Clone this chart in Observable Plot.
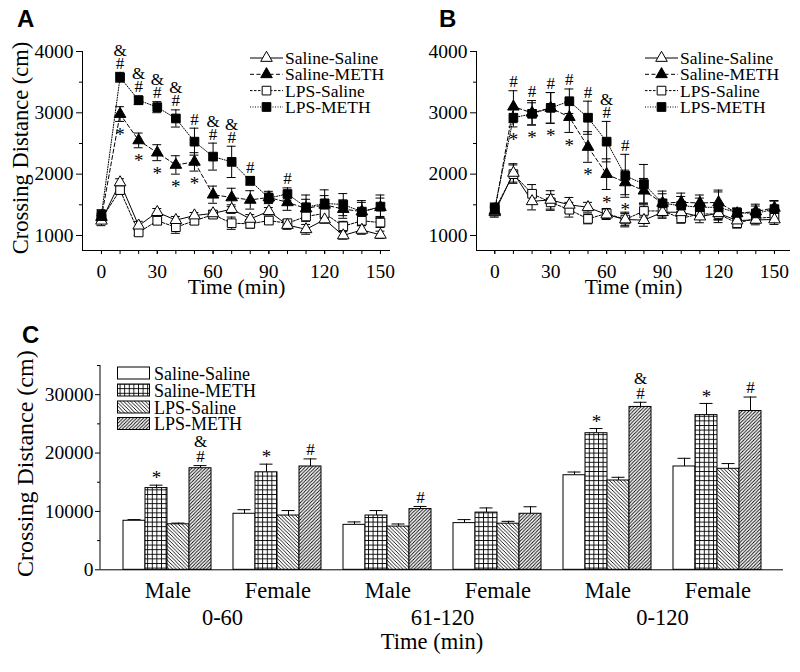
<!DOCTYPE html>
<html><head><meta charset="utf-8">
<script src="https://cdn.jsdelivr.net/npm/d3@7"></script>
<script src="https://cdn.jsdelivr.net/npm/@observablehq/plot@0.6"></script>
<style>
body{margin:0;background:#fff;}
#wrap{position:relative;width:800px;height:672px;overflow:hidden;background:#fff;}
#wrap svg{position:absolute;}
</style></head><body><div id="wrap"></div>
<script>
// ---------- data ----------
const times = [0,10,20,30,40,50,60,70,80,90,100,110,120,130,140,150];
const seriesNames = ["Saline-Saline","Saline-METH","LPS-Saline","LPS-METH"];
const xLabelTicks = [0,30,60,90,120,150];
const yMajorTime = [1000,2000,3000,4000];
const yMinorTime = [1500,2500,3500];

// Panel A
const aSalineSaline    = [1240,1865,1160,1380,1250,1325,1360,1430,1270,1395,1170,1100,1260,1000,1090,1010];
const aSalineSalineErr = [80,60,70,60,60,50,50,70,70,60,70,80,60,60,70,60];
const aSalineMeth      = [1300,2980,2550,2350,2150,2200,1665,1620,1580,1620,1540,1440,1500,1430,1390,1460];
const aSalineMethErr   = [60,120,120,130,150,150,140,150,150,100,130,150,150,150,150,150];
const aLpsSaline       = [1270,1740,1050,1240,1135,1240,1340,1200,1190,1243,1200,1310,1360,1150,1240,1210];
const aLpsSalineErr    = [60,70,50,60,100,60,60,100,70,60,60,80,80,80,80,80];
const aLpsMeth         = [1340,3580,3205,3092,2908,2530,2286,2200,1892,1611,1676,1460,1524,1503,1389,1470];
const aLpsMethErr      = [80,80,70,90,140,220,220,255,70,80,100,200,220,180,180,190];
const aHash = ["","#","#","#","#","#","#","#","#","","#","","","","",""];
const aAmp  = ["","&","&","&","&","","&","&","","","","","","","",""];
const aStar = ["","*","*","*","*","*","","","","","","","","","",""];

// Panel B
const bSalineSaline    = [1378,2020,1557,1580,1500,1460,1340,1260,1250,1380,1378,1308,1362,1243,1254,1260];
const bSalineSalineErr = [80,150,140,150,120,80,80,100,100,100,100,100,100,100,80,80];
const bSalineMeth      = [1400,3100,3000,3080,2930,2443,2000,1865,1730,1530,1541,1530,1540,1360,1390,1450];
const bSalineMethErr   = [80,260,200,250,250,250,250,200,200,150,150,130,200,80,120,120];
const bLpsSaline       = [1420,2000,1680,1540,1420,1270,1360,1260,1400,1400,1280,1351,1350,1200,1280,1300];
const bLpsSalineErr    = [80,150,150,130,120,80,80,120,100,100,80,80,100,80,80,80];
const bLpsMeth         = [1450,2920,2984,3081,3189,2920,2530,1973,1838,1524,1486,1460,1460,1370,1360,1430];
const bLpsMethErr      = [80,150,180,250,200,270,330,350,320,200,150,150,250,80,120,130];
const bHash = ["","#","#","#","#","#","#","#","","","","","","","",""];
const bAmp  = ["","","","","","","&","","","","","","","","",""];
const bStar = ["","*","*","*","*","*","*","*","","","","","","","",""];

// Panel C
const groupSex   = ["Male","Female","Male","Female","Male","Female"];
const rangeLabels = ["0-60","61-120","0-120"];
const cSalineSaline    = [8400,9600,7700,8000,16200,17700];
const cSalineSalineErr = [200,700,500,600,550,1400];
const cSalineMeth      = [14000,16700,9300,9800,23400,26500];
const cSalineMethErr   = [500,1400,850,800,800,2000];
const cLpsSaline       = [7800,9300,7400,7900,15300,17300];
const cLpsSalineErr    = [200,850,450,400,550,900];
const cLpsMeth         = [17400,17700,10400,9600,27900,27200];
const cLpsMethErr      = [450,1300,450,1200,800,2400];
const cStar = ["*","*","","","*","*"];   // over Saline-METH
const cHash = ["#","#","#","","#","#"];  // over LPS-METH
const cAmp  = ["&","","","","&",""];
const cYMajor = [0,10000,20000,30000];
const cYMinor = [5000,15000,25000,35000];

// ---------- helpers ----------
const wrap = document.getElementById("wrap");
const serif = "'Liberation Serif','Times New Roman',serif";
const sans = "'Liberation Sans',Arial,sans-serif";
const styleOf = [
  {symbol: "triangle", fill: "white", r: 4.3, dash: null},
  {symbol: "triangle", fill: "black", r: 4.3, dash: "4,2.5"},
  {symbol: "square",   fill: "white", r: 4.9, dash: "2.5,1.5"},
  {symbol: "square",   fill: "black", r: 4.9, dash: "1,1.5"}
];
const symbolType = {triangle: d3.symbolTriangle, square: d3.symbolSquare};

function place(svg, left, top) {
  svg.style.left = left + "px";
  svg.style.top = top + "px";
  wrap.appendChild(svg);
}

function timePanel({means, errs, hash, amp, star, marginLeft, xDomain, yTitle, letter, letterX, legendX}) {
  const rows = [];
  seriesNames.forEach((s, si) => times.forEach((t, i) =>
    rows.push({series: s, si, t, v: means[si][i], e: errs[si][i]})));
  const ann = times.map((t, i) => ({
    t,
    top: Math.max(means[1][i] + errs[1][i], means[3][i] + errs[3][i]),
    bot: Math.min(means[1][i] - errs[1][i], means[3][i] - errs[3][i]),
    hash: hash[i], amp: amp[i], star: star[i]
  }));
  const yDomain = [755, 4000];
  const capHalf = 2.4;
  const order = [2, 0, 3, 1];
  const marks = [
    Plot.ruleX([xDomain[0]], {stroke: "black"}),
    Plot.ruleY([yDomain[0]], {stroke: "black"}),
    Plot.axisY({ticks: yMajorTime, tickSize: 6, tickPadding: 3, tickFormat: d3.format("d"), label: null, fontSize: 19.5}),
    Plot.axisY({ticks: yMinorTime, tickSize: 3, tickFormat: () => "", label: null}),
    Plot.axisX({ticks: times, tickSize: 4, tickFormat: () => "", label: null}),
    Plot.axisX({ticks: xLabelTicks, tickSize: 4, tickPadding: 10, tickFormat: d3.format("d"), label: null, fontSize: 19.5})
  ];
  order.forEach(si => marks.push(Plot.line(rows.filter(d => d.si === si),
    {x: "t", y: "v", stroke: "black", strokeWidth: 1, strokeDasharray: styleOf[si].dash})));
  marks.push(Plot.ruleX(rows, {x: "t", y1: d => d.v - d.e, y2: d => d.v + d.e, stroke: "black"}));
  marks.push(Plot.ruleY(rows, {y: d => d.v + d.e, x1: d => d.t - capHalf, x2: d => d.t + capHalf, stroke: "black"}));
  marks.push(Plot.ruleY(rows, {y: d => d.v - d.e, x1: d => d.t - capHalf, x2: d => d.t + capHalf, stroke: "black"}));
  order.forEach(si => marks.push(Plot.dot(rows.filter(d => d.si === si),
    {x: "t", y: "v", symbol: styleOf[si].symbol, r: styleOf[si].r, fill: styleOf[si].fill, stroke: "black", strokeWidth: 1})));
  marks.push(Plot.text(ann.filter(d => d.hash), {x: "t", y: "top", text: "hash", dy: -9, fontSize: 17}));
  marks.push(Plot.text(ann.filter(d => d.amp), {x: "t", y: "top", text: "amp", dy: -22, fontSize: 17}));
  marks.push(Plot.text(ann.filter(d => d.star), {x: "t", y: "bot", text: "star", dy: 13, fontSize: 19}));
  if (yTitle) marks.push(Plot.text([yTitle], {frameAnchor: "left", textAnchor: "middle", dx: -62, dy: -3, rotate: -90, fontSize: 22.5}));
  marks.push(Plot.text(["Time (min)"], {frameAnchor: "bottom", dy: 43, fontSize: 21.5}));

  const svg = Plot.plot({
    width: 400, height: 310,
    marginLeft, marginRight: 10, marginTop: 51, marginBottom: 60,
    x: {domain: xDomain, label: null},
    y: {domain: yDomain, label: null},
    style: {fontFamily: serif, fontSize: "19px", color: "black", background: "white", overflow: "visible"},
    marks
  });
  const s = d3.select(svg);
  s.append("text").attr("x", letterX).attr("y", 27).attr("font-family", sans).attr("text-anchor", "start")
    .attr("font-weight", "bold").attr("font-size", 24).text(letter);
  const rowsY = [58, 74.3, 90.6, 107];
  const lg = s.append("g");
  seriesNames.forEach((name, si) => {
    const y = rowsY[si];
    lg.append("line").attr("x1", legendX).attr("x2", legendX + 33).attr("y1", y).attr("y2", y)
      .attr("stroke", "black").attr("stroke-dasharray", styleOf[si].dash);
    lg.append("path").attr("transform", `translate(${legendX + 16.5},${y})`)
      .attr("d", d3.symbol(symbolType[styleOf[si].symbol], Math.PI * styleOf[si].r ** 2)())
      .attr("fill", styleOf[si].fill).attr("stroke", "black");
    lg.append("text").attr("x", legendX + 35).attr("y", y + 6).attr("font-size", 17.5).attr("text-anchor", "start")
      .attr("font-family", serif).text(name);
  });
  return svg;
}

// ---------- panel A ----------
place(timePanel({
  means: [aSalineSaline, aSalineMeth, aLpsSaline, aLpsMeth],
  errs: [aSalineSalineErr, aSalineMethErr, aLpsSalineErr, aLpsMethErr],
  hash: aHash, amp: aAmp, star: aStar,
  marginLeft: 82, xDomain: [-10.2, 155.4],
  yTitle: "Crossing Distance (cm)", letter: "A", letterX: 17, legendX: 250
}), 0, 0);

// ---------- panel B ----------
place(timePanel({
  means: [bSalineSaline, bSalineMeth, bLpsSaline, bLpsMeth],
  errs: [bSalineSalineErr, bSalineMethErr, bLpsSalineErr, bLpsMethErr],
  hash: bHash, amp: bAmp, star: bStar,
  marginLeft: 76, xDomain: [-9.8, 158.6],
  yTitle: null, letter: "B", letterX: 39, legendX: 245
}), 400, 0);

// ---------- panel C ----------
(function () {
  const means = [cSalineSaline, cSalineMeth, cLpsSaline, cLpsMeth];
  const errs = [cSalineSalineErr, cSalineMethErr, cLpsSalineErr, cLpsMethErr];
  const keyOf = (gi, s) => gi + "|" + s;
  const domain = [];
  groupSex.forEach((g, gi) => {
    seriesNames.forEach(s => domain.push(keyOf(gi, s)));
    if (gi < groupSex.length - 1) domain.push("gap" + gi);
  });
  const rows = [];
  seriesNames.forEach((s, si) => groupSex.forEach((g, gi) =>
    rows.push({key: keyOf(gi, s), series: s, v: means[si][gi], e: errs[si][gi]})));
  const W = 800, H = 362, mL = 100, mR = 17, mT = 55, mB = 102.7;
  const step = (W - mL - mR) / (domain.length + 1);
  const sexRows = groupSex.map((sex, gi) => ({key: keyOf(gi, seriesNames[1]), sex}));
  const rangeRows = rangeLabels.map((r, p) => ({key: "gap" + (2 * p), r}));
  const starRows = groupSex.map((g, gi) => ({key: keyOf(gi, seriesNames[1]), y: means[1][gi] + errs[1][gi], s: cStar[gi]})).filter(d => d.s);
  const hashRows = groupSex.map((g, gi) => ({key: keyOf(gi, seriesNames[3]), y: means[3][gi] + errs[3][gi], s: cHash[gi]})).filter(d => d.s);
  const ampRows = groupSex.map((g, gi) => ({key: keyOf(gi, seriesNames[3]), y: means[3][gi] + errs[3][gi], s: cAmp[gi]})).filter(d => d.s);

  const svg = Plot.plot({
    width: W, height: H, marginLeft: mL, marginRight: mR, marginTop: mT, marginBottom: mB,
    x: {domain, paddingInner: 0, paddingOuter: 0.5, axis: null, label: null},
    y: {domain: [0, 35000], label: null},
    color: {type: "ordinal", domain: seriesNames, range: ["white", "url(#pGrid)", "url(#pBack)", "url(#pFwd)"]},
    style: {fontFamily: serif, fontSize: "19px", color: "black", background: "white", overflow: "visible"},
    marks: [
      Plot.axisY({ticks: cYMajor, tickSize: 5, tickPadding: 2, tickFormat: d3.format("d"), label: null, fontSize: 19.5}),
      Plot.axisY({ticks: cYMinor, tickSize: 3, tickFormat: () => "", label: null}),
      Plot.ruleX(rows, {x: "key", y1: "v", y2: d => d.v + d.e, stroke: "black"}),
      Plot.tickY(rows, {x: "key", y: d => d.v + d.e, insetLeft: 4.5, insetRight: 4.5, stroke: "black"}),
      Plot.barY(rows, {x: "key", y: "v", fill: "series", stroke: "black", strokeWidth: 1}),
      Plot.ruleY([0], {stroke: "black"}),
      Plot.text(starRows, {x: "key", y: "y", text: "s", dy: -7, fontSize: 19}),
      Plot.text(hashRows, {x: "key", y: "y", text: "s", dy: -9, fontSize: 17}),
      Plot.text(ampRows, {x: "key", y: "y", text: "s", dy: -24, fontSize: 17}),
      Plot.text(sexRows, {x: "key", text: "sex", frameAnchor: "bottom", dx: step / 2, dy: 28, fontSize: 22.5}),
      Plot.text(rangeRows, {x: "key", text: "r", frameAnchor: "bottom", dy: 55, fontSize: 22.5}),
      Plot.text(["Time (min)"], {frameAnchor: "bottom", dy: 79, dx: -10, fontSize: 22.5}),
      Plot.text(["Crossing Distance (cm)"], {frameAnchor: "left", textAnchor: "middle", dx: -75, dy: -4, rotate: -90, fontSize: 24})
    ]
  });
  const s = d3.select(svg);
  const defs = s.insert("defs", ":first-child");
  const g1 = defs.append("pattern").attr("id", "pGrid").attr("patternUnits", "userSpaceOnUse")
    .attr("width", 4.6).attr("height", 4.6);
  g1.append("rect").attr("width", 4.6).attr("height", 4.6).attr("fill", "white");
  g1.append("path").attr("d", "M0,0.5H4.6M0.5,0V4.6").attr("stroke", "black").attr("stroke-width", 0.9);
  const w2 = 3.6;
  const g2 = defs.append("pattern").attr("id", "pBack").attr("patternUnits", "userSpaceOnUse")
    .attr("width", w2).attr("height", w2);
  g2.append("rect").attr("width", w2).attr("height", w2).attr("fill", "white");
  g2.append("path").attr("d", `M-1,-1L${w2 + 1},${w2 + 1}M-1,${w2 - 1}L1,${w2 + 1}M${w2 - 1},-1L${w2 + 1},1`)
    .attr("stroke", "black").attr("stroke-width", 0.9);
  const w3 = 3.4;
  const g3 = defs.append("pattern").attr("id", "pFwd").attr("patternUnits", "userSpaceOnUse")
    .attr("width", w3).attr("height", w3);
  g3.append("rect").attr("width", w3).attr("height", w3).attr("fill", "white");
  g3.append("path").attr("d", `M-1,${w3 + 1}L${w3 + 1},-1M-1,1L1,-1M${w3 - 1},${w3 + 1}L${w3 + 1},${w3 - 1}`)
    .attr("stroke", "black").attr("stroke-width", 0.9);

  const y = v => svg.scale("y").apply(v);
  s.append("line").attr("x1", mL).attr("x2", mL).attr("y1", y(35000)).attr("y2", y(0)).attr("stroke", "black");
  s.append("text").attr("x", 22).attr("y", 33).attr("font-family", sans).attr("text-anchor", "start")
    .attr("font-weight", "bold").attr("font-size", 24).text("C");
  const rowsY = [63, 80, 97, 113.5];
  seriesNames.forEach((name, si) => {
    s.append("rect").attr("x", 117.5).attr("y", rowsY[si] - 6).attr("width", 32).attr("height", 12)
      .attr("fill", svg.scale("color").apply(name)).attr("stroke", "black");
    s.append("text").attr("x", 154).attr("y", rowsY[si] + 6.5).attr("font-size", 18).attr("text-anchor", "start")
      .attr("font-family", serif).text(name);
  });
  place(svg, 0, 310);
})();
</script>
</body></html>
